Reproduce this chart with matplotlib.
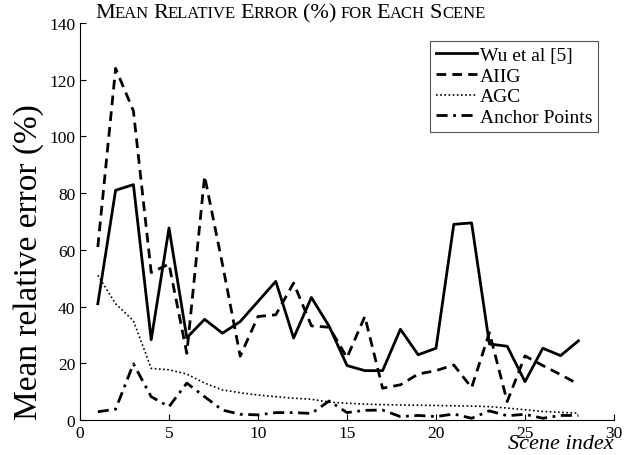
import numpy as np
import matplotlib
matplotlib.use('Agg')
import matplotlib.pyplot as plt

plt.rcParams['font.family'] = ['Liberation Serif', 'DejaVu Serif']
plt.rcParams['mathtext.fontset'] = 'stix'

# data
scenes = list(range(1, 29))
wu = [41, 81, 83, 28.3, 67.7, 29, 35.5, 30.6, 34.7, 41.8, 48.9, 28.9, 43.2, 33,
      19.2, 17.4, 17.4, 32, 23, 25.3, 69, 69.5, 26.8, 26, 13.5, 25.3, 22.7, 27.9]
aiig = [61, 124, 109, 52, 55, 23.5, 86, 55, 22.5, 36.5, 37.1, 48.3, 33.2, 32.7,
        22, 36.5, 11.2, 12.4, 16.2, 17.4, 19.4, 11.4, 30.8, 6.5, 22.6, 19.2, 16, 12.6]
agc = [51, 41, 35, 18.2, 17.7, 16.2, 13, 10.6, 9.6, 8.8, 8.2, 7.7, 7.3, 6.3,
       5.9, 5.6, 5.4, 5.3, 5.2, 5.1, 5.0, 4.9, 4.7, 4.2, 3.6, 3.0, 2.7, 2.4]
anchor = [2.9, 3.8, 19.8, 8.2, 4.7, 13, 8.2, 3.5, 2, 1.8, 2.6, 2.6, 2.3, 6.7,
          2.6, 3.4, 3.5, 1.2, 1.6, 1.2, 2.1, 0.6, 3.2, 1.5, 2, 0.6, 1.6, 1.6]
labels = ['Wu et al [5]', 'AIIG', 'AGC', 'Anchor Points']
title_words = ['Mean', 'Relative', 'Error', '(%)', 'for', 'Each', 'Scene']

fig = plt.figure(figsize=(6.36, 4.56), dpi=100)
ax = fig.add_axes([0.1258, 0.0768, 0.8396, 0.8706])

ax.plot(scenes, wu, color='black', lw=2.0, ls='-', label=labels[0])
ax.plot(scenes, aiig, color='black', lw=2.0, ls=(0, (3.5, 2.2)), label=labels[1])
ax.plot(scenes, agc, color='black', lw=1.2, ls=(0, (1, 1.5)), label=labels[2])
ax.plot(scenes, anchor, color='black', lw=2.0, ls=(0, (4, 2, 1, 2)), label=labels[3])

ax.set_xlim(0, 30)
ax.set_ylim(0, 140)
ax.set_xticks(np.arange(0, 31, 5))
ax.set_yticks(np.arange(0, 141, 20))
ax.tick_params(direction='in', labelsize=12.5, length=4, width=0.8)
ax.spines['top'].set_visible(False)
ax.spines['right'].set_visible(False)

ax.set_ylabel('Mean relative error (%)', fontsize=24)
ax.yaxis.set_label_coords(-0.068, 0.40)
ax.text(1.0, -0.058, 'Scene index', transform=ax.transAxes, ha='right',
        va='center', fontsize=16, style='italic')

leg = ax.legend(loc='upper right', bbox_to_anchor=(0.97, 0.955), fontsize=14,
                handlelength=2.1, handletextpad=0.15, labelspacing=0.15,
                borderpad=0.3, borderaxespad=0, fancybox=False, framealpha=1)
leg.get_frame().set_edgecolor('#555555')
leg.get_frame().set_linewidth(0.8)

# small caps title, built piece by piece
renderer = fig.canvas.get_renderer()
big, small = 16, 12
x = 95 / 636
y = 1 - 18.5 / 456
fig_w = fig.bbox.width
for w in title_words:
    if w[0].isupper():
        pieces = [(w[0], big), (w[1:].upper(), small)]
    elif w[0].isalpha():
        pieces = [(w.upper(), small)]
    else:
        pieces = [(w, big)]
    for s, size in pieces:
        if not s:
            continue
        t = fig.text(x, y, s, fontsize=size, ha='left', va='baseline')
        x += t.get_window_extent(renderer).width / fig_w
    x += 0.25 * small * 100 / 72 / fig_w

fig.savefig('out.png', dpi=100)
